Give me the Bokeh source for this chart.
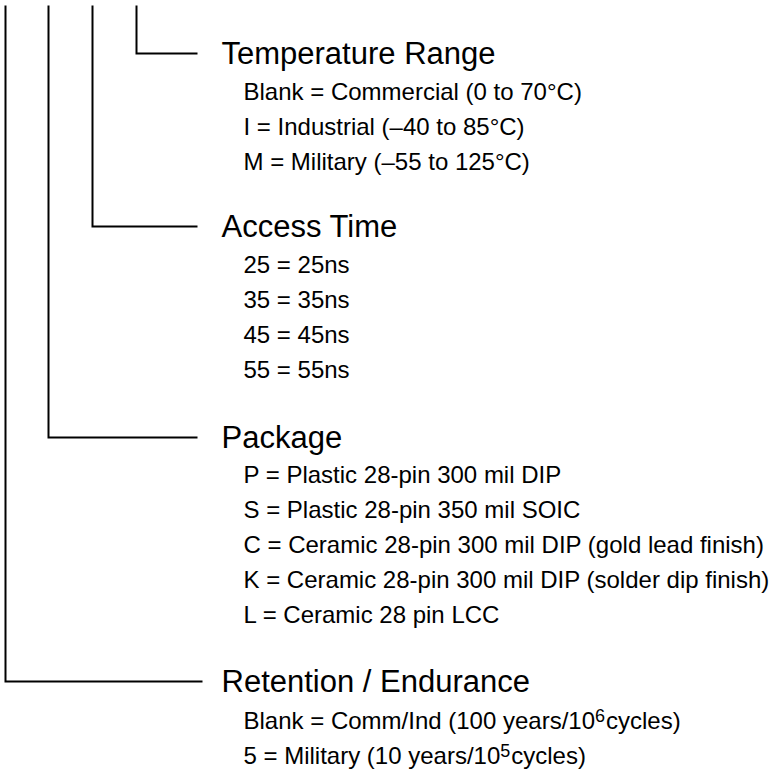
from bokeh.plotting import figure
from bokeh.models import Range1d
from bokeh.embed import file_html
from bokeh.resources import INLINE
from bokeh.core.properties import value

# ---- content ----
headers = ["Temperature Range", "Access Time", "Package", "Retention / Endurance"]
temperature_items = [
    "Blank = Commercial (0 to 70°C)",
    "I = Industrial (–40 to 85°C)",
    "M = Military (–55 to 125°C)",
]
access_items = ["25 = 25ns", "35 = 35ns", "45 = 45ns", "55 = 55ns"]
package_items = [
    "P = Plastic 28-pin 300 mil DIP",
    "S = Plastic 28-pin 350 mil SOIC",
    "C = Ceramic 28-pin 300 mil DIP (gold lead finish)",
    "K = Ceramic 28-pin 300 mil DIP (solder dip finish)",
    "L = Ceramic 28 pin LCC",
]
retention_main = ["Blank = Comm/Ind (100 years/10", "5 = Military (10 years/10"]
retention_sup = ["6", "5"]
retention_tail = ["cycles)", "cycles)"]

# ---- layout (picture pixels, y downwards) ----
W, H = 777, 770
FONT = "Liberation Sans"
HEAD_SIZE = 31
ITEM_SIZE = 24
SUP_SIZE = 18
SUP_SHIFT = 5

header_x = 221
item_x = 243
header_mid = [53, 226, 437, 681]
branch_x = [5, 48, 92, 136]
branch_top = [5, 5, 5, 5]
branch_end = [202, 197, 197, 197][::-1]
item_first = [38, 38, 37, 39]
item_step = [35, 35, 35, 35]

# Arial / Liberation Sans advance widths (per 1000 em)
ADV = {" ": 278, "(": 333, ")": 333, "/": 278, "=": 584, "B": 667, "C": 722,
       "I": 278, "M": 833, "a": 556, "c": 500, "d": 556, "e": 556, "i": 222,
       "k": 500, "l": 222, "m": 833, "n": 556, "o": 556, "r": 333, "s": 500,
       "t": 278, "y": 500}
for dgt in "0123456789":
    ADV[dgt] = 556


def text_width(s, size):
    return sum(ADV.get(ch, 556) for ch in s) * size / 1000.0


p = figure(width=W, height=H, output_backend="svg", toolbar_location=None,
           x_range=Range1d(0, W), y_range=Range1d(H, 0),
           min_border=0, outline_line_color=None, background_fill_color="white",
           border_fill_color="white")
p.xaxis.visible = False
p.yaxis.visible = False
p.grid.visible = False

# connector lines: deepest branch (left) goes to the last header
xs, ys = [], []
for k in range(4):
    g = 3 - k  # branch k (left to right) -> header g
    bx = branch_x[k]
    xs.append([bx, bx, branch_end[g]])
    ys.append([branch_top[k], header_mid[g], header_mid[g]])
p.multi_line(xs=xs, ys=ys, line_color="black", line_width=2,
             line_join="miter", line_cap="butt")

# headers
p.text(x=[header_x] * len(headers), y=header_mid, text=headers,
       text_font=value(FONT), text_font_size=f"{HEAD_SIZE}px",
       text_color="black", text_baseline="middle", text_align="left")

# items
item_groups = [temperature_items, access_items, package_items]
ix, iy, it = [], [], []
for g, items in enumerate(item_groups):
    for i, s in enumerate(items):
        ix.append(item_x)
        iy.append(header_mid[g] + item_first[g] + item_step[g] * i)
        it.append(s)
p.text(x=ix, y=iy, text=it, text_font=value(FONT),
       text_font_size=f"{ITEM_SIZE}px", text_color="black",
       text_baseline="middle", text_align="left")

# retention rows with superscripts
rx, ry, sx, sy, tx = [], [], [], [], []
for i, (m, s, t) in enumerate(zip(retention_main, retention_sup, retention_tail)):
    mid = header_mid[3] + item_first[3] + item_step[3] * i
    rx.append(item_x)
    ry.append(mid)
    sxx = item_x + text_width(m, ITEM_SIZE)
    sx.append(sxx)
    sy.append(mid - SUP_SHIFT)
    tx.append(sxx + text_width(s, SUP_SIZE) + 1)
p.text(x=rx, y=ry, text=retention_main, text_font=value(FONT),
       text_font_size=f"{ITEM_SIZE}px", text_color="black",
       text_baseline="middle", text_align="left")
p.text(x=sx, y=sy, text=retention_sup, text_font=value(FONT),
       text_font_size=f"{SUP_SIZE}px", text_color="black",
       text_baseline="middle", text_align="left")
p.text(x=tx, y=ry, text=retention_tail, text_font=value(FONT),
       text_font_size=f"{ITEM_SIZE}px", text_color="black",
       text_baseline="middle", text_align="left")

open("out.html", "w").write(file_html(p, INLINE))
